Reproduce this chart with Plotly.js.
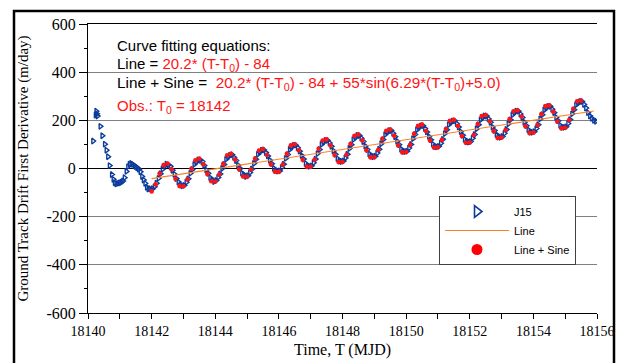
<!DOCTYPE html>
<html><head><meta charset="utf-8">
<script src="https://cdn.plot.ly/plotly-3.0.1.min.js"></script>
<style>html,body{margin:0;padding:0;background:#fff;} #chart{width:619px;height:363px;}</style>
</head><body><div id="chart"></div>
<script>
// J15 observations before T0 (MJD, m/day)
const j15EarlyTime = [18140.16,18140.24,18140.26,18140.28,18140.30,18140.39,18140.45,18140.53,18140.58,18140.63,18140.68,18140.75,18140.80,18140.84,18140.89,18140.94,18141.00,18141.05,18141.10,18141.15,18141.21,18141.26,18141.31,18141.36,18141.41,18141.46,18141.50,18141.55,18141.60,18141.65,18141.70,18141.75,18141.80,18141.85,18141.90,18141.95];
const j15EarlyDrift = [114,222,238,227,218,175,136,101,76,49,12,-25,-45,-59,-64,-62,-60,-57,-52,-38,-12,8,18,21,17,12,8,3,-3,-14,-33,-48,-62,-78,-85,-84];

// sampling schedules after T0
const sampleStart = 18142;
const j15PerDay = 16;   // J15 samples per day
const j15Lag = 0.5;     // J15 samples sit half a step later
const fitPerDay = 8;    // fitted points per day

// J15 observations from T0 on (one row per day)
const j15Drift = [
 -84,-76,-61,-41,-22,-3,10,18,15,9,-7,-24,-42,-56,-67,-72,
 -70,-57,-43,-20,-4,17,27,36,34,29,12,-6,-20,-38,-47,-54,
 -50,-37,-23,0,17,38,48,55,57,46,33,14,0,-19,-27,-33,
 -30,-17,-2,21,38,59,68,76,77,66,52,34,20,1,-9,-11,
 -10,4,18,42,58,79,89,96,97,86,72,54,39,21,11,9,
 11,24,39,62,79,100,109,117,117,106,92,73,59,41,31,29,
 31,44,59,83,99,120,129,137,137,126,112,93,79,61,51,49,
 51,64,80,103,120,141,150,157,158,146,132,113,99,81,71,70,
 72,85,100,124,141,161,170,177,178,166,152,133,119,101,91,90,
 92,105,121,145,161,182,191,197,198,186,172,153,138,121,111,110,
 112,126,141,165,182,202,211,218,218,206,192,172,158,141,131,130,
 133,146,162,186,202,223,231,238,238,226,212,192,178,161,151,150,
 153,166,182,206,223,243,252,258,258,246,232,212,198,180,171,171,
 173,187,203,227,244,264,272,278,278,266,251,232,218,208,200,196
];

// Line + Sine fitted values (one row per day)
const fitDrift = [
 -95,-66,-21,14,21,-3,-43,-73,
 -74,-45,-1,34,41,17,-23,-53,
 -54,-25,20,55,61,37,-3,-33,
 -34,-4,41,75,81,56,17,-13,
 -14,16,61,96,101,76,36,7,
 7,37,82,116,121,96,56,27,
 27,57,102,136,141,116,76,47,
 47,78,123,157,162,136,96,67,
 68,98,144,177,182,156,116,87,
 88,119,164,198,202,176,135,107,
 108,139,185,218,222,196,155,127,
 129,160,205,238,242,216,175,147,
 149,180,226,259,262,236,195,167,
 169,201,247,279,282
];

// Line fit end points
const lineTime = [18142, 18155.9];
const lineDrift = [-42, 239];

// axis tick labels
const yTickVals = [-600,-400,-200,0,200,400,600];
const yTickText = ['-600','-400','-200','0','200','400','600'];

const gridTime = (n, perDay, lag) => Array.from({length:n}, (_, i) => sampleStart + (i + lag) / perDay);
const j15Time = j15EarlyTime.concat(gridTime(j15Drift.length, j15PerDay, j15Lag));
const j15All = j15EarlyDrift.concat(j15Drift);
const fitTime = gridTime(fitDrift.length, fitPerDay, 0);

const BLUE = '#0b3c9c', RED = '#ff1414', ORANGE = '#ff7f27';

const traces = [
  // data traces
  {x:j15Time, y:j15All, type:'scatter', mode:'markers', name:'J15', showlegend:false,
   marker:{symbol:'triangle-right-open', size:5, color:BLUE, line:{width:1.4, color:BLUE}}},
  {x:fitTime, y:fitDrift, type:'scatter', mode:'markers', name:'Line + Sine', showlegend:false,
   marker:{symbol:'circle', size:4.6, color:RED, line:{width:0}}},
  {x:lineTime, y:lineDrift, type:'scatter', mode:'lines', name:'Line', showlegend:false,
   line:{color:ORANGE, width:1.1}},
  // legend entries
  {x:[null], y:[null], type:'scatter', mode:'markers', name:'J15', legendrank:1,
   marker:{symbol:'triangle-right-open', size:10, color:BLUE, line:{width:1.6, color:BLUE}}},
  {x:[null], y:[null], type:'scatter', mode:'lines', name:'Line', legendrank:2,
   line:{color:ORANGE, width:1}},
  {x:[null], y:[null], type:'scatter', mode:'markers', name:'Line + Sine', legendrank:3,
   marker:{symbol:'circle', size:11, color:'#ff0000', line:{width:0}}}
];

const sans = 'Liberation Sans, Arial, sans-serif';
const px2y = py => (313 - py) / 289;
const px2x = px => (px - 88) / 509;

const layout = {
  width:619, height:363,
  margin:{l:88, r:22, t:24, b:50},
  paper_bgcolor:'#ffffff', plot_bgcolor:'#ffffff',
  showlegend:true,
  font:{family:'Liberation Serif, Times New Roman, serif', color:'#000'},
  xaxis:{range:[18140,18156], tick0:18140, dtick:2, tickformat:'d', ticks:'outside', ticklen:5, tickcolor:'#000',
    showgrid:false, zeroline:false, showline:true, linecolor:'#000', linewidth:1, mirror:true,
    tickfont:{size:14, color:'#000'},
    minor:{dtick:1, ticks:'outside', ticklen:5, tickcolor:'#000', showgrid:false},
    title:{text:'Time, T (MJD)', font:{size:16, color:'#000'}, standoff:6}},
  yaxis:{range:[-600,600], tickmode:'array', tickvals:yTickVals, ticktext:yTickText, ticks:'outside', ticklen:8, tickcolor:'#000',
    showgrid:true, gridcolor:'#808080', gridwidth:1, zeroline:true, zerolinecolor:'#000', zerolinewidth:1,
    showline:true, linecolor:'#000', linewidth:1,
    tickfont:{size:16, color:'#000'},
    minor:{tickmode:'linear', tick0:0, dtick:100, ticks:'outside', ticklen:3, tickcolor:'#000', showgrid:false},
    title:{text:'Ground Track Drift First Derivative (m/day)', font:{size:15, color:'#000'}, standoff:14}},
  legend:{x:px2x(439), y:px2y(196), xanchor:'left', yanchor:'top', bgcolor:'#ffffff', bordercolor:'#404040', borderwidth:1,
    font:{family:sans, size:11, color:'#000'}, itemwidth:64, tracegroupgap:0},
  annotations:[
    {xref:'paper', yref:'paper', x:px2x(115), y:px2y(46), xanchor:'left', yanchor:'middle', showarrow:false,
     text:'Curve fitting equations:', font:{family:sans, size:15, color:'#000'}},
    {xref:'paper', yref:'paper', x:px2x(115), y:px2y(64), xanchor:'left', yanchor:'middle', showarrow:false,
     text:'Line = <span style="color:'+RED+'">20.2* (T-T<sub>0</sub>) - 84</span>', font:{family:sans, size:15, color:'#000'}},
    {xref:'paper', yref:'paper', x:px2x(115), y:px2y(84), xanchor:'left', yanchor:'middle', showarrow:false,
     text:'Line + Sine =\u00a0\u00a0<span style="color:'+RED+'">20.2* (T-T<sub>0</sub>) - 84 + 55*sin(6.29*(T-T<sub>0</sub>)+5.0)</span>', font:{family:sans, size:15.3, color:'#000'}},
    {xref:'paper', yref:'paper', x:px2x(115), y:px2y(106), xanchor:'left', yanchor:'middle', showarrow:false,
     text:'Obs.: T<sub>0</sub> = 18142', font:{family:sans, size:15, color:RED}}
  ],
  shapes:[
    {type:'rect', xref:'paper', yref:'paper', x0:px2x(14), x1:px2x(614), y0:px2y(375), y1:px2y(11), line:{color:'#000', width:2.5}, layer:'above'}
  ]
};

Plotly.newPlot('chart', traces, layout, {displayModeBar:false, staticPlot:true});
</script></body></html>
